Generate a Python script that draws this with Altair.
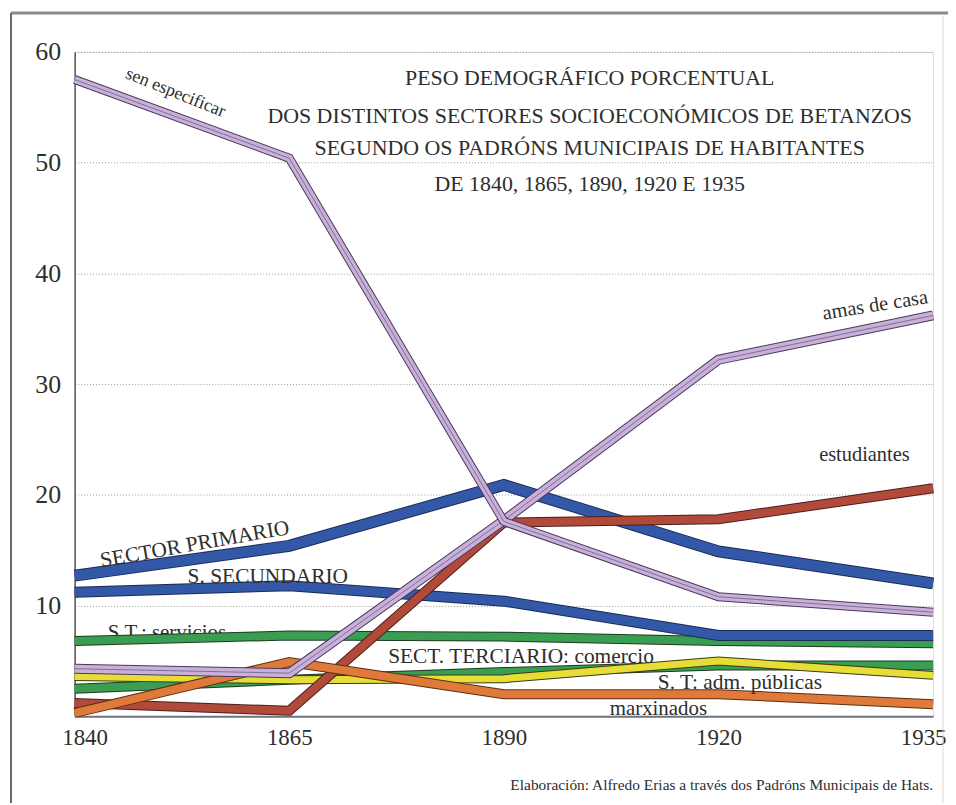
import json
import pandas as pd
import altair as alt

# ---------------- data (percentages) ----------------
years = ["1840", "1865", "1890", "1920", "1935"]

sen_especificar = [57.5, 50.4, 17.6, 10.8, 9.4]
amas_de_casa = [4.3, 3.9, 17.7, 32.2, 36.2]
estudiantes = [1.2, 0.5, 17.5, 17.8, 20.6]
sector_primario = [12.7, 15.4, 20.9, 14.9, 12.0]
s_secundario = [11.2, 11.8, 10.4, 7.3, 7.3]
st_servicios = [6.8, 7.3, 7.2, 6.8, 6.6]
st_comercio = [2.5, 3.3, 4.0, 4.6, 4.6]
st_adm_publicas = [3.6, 3.3, 3.4, 5.0, 3.7]
marxinados = [0.3, 4.9, 2.0, 2.0, 1.1]

# drawing order (bottom to top): name, values, fill colour, outline colour, width
series = [
    ("SECT. TERCIARIO: comercio", st_comercio, "#3a9e52", "#1f3a22", 8),
    ("S. T: adm. públicas", st_adm_publicas, "#e6de36", "#3a3a1a", 7),
    ("S.T.: servicios", st_servicios, "#3a9e52", "#1f3a22", 8),
    ("S. SECUNDARIO", s_secundario, "#3358a8", "#1c2c55", 9),
    ("SECTOR PRIMARIO", sector_primario, "#3358a8", "#1c2c55", 10),
    ("estudiantes", estudiantes, "#b24a3c", "#4a2018", 8),
    ("marxinados", marxinados, "#e07a3a", "#5a2e14", 8),
    ("amas de casa", amas_de_casa, "#c9b0da", "#4a3a5a", 8),
    ("sen especificar", sen_especificar, "#c9b0da", "#4a3a5a", 7),
]

# annotation labels: text, x position (index along the years), y value, angle, size
annotations = [
    ("sen especificar", 0.47, 56.3, 22, 18),
    ("SECTOR PRIMARIO", 0.56, 15.5, 350, 21.5),
    ("S. SECUNDARIO", 0.90, 12.6, 0, 21.5),
    ("SECT. TERCIARIO: comercio", 2.08, 5.4, 0, 21.5),
    ("S. T: adm. públicas", 3.10, 3.0, 0, 21.5),
    ("marxinados", 2.72, 0.7, 0, 21),
    ("amas de casa", 3.73, 37.1, 351, 20.5),
    ("estudiantes", 3.68, 23.6, 0, 20.5),
]
servicios_label = ("S.T.: servicios", 0.43, 7.5, 0, 21)

title_lines = [
    "PESO DEMOGRÁFICO PORCENTUAL",
    "DOS DISTINTOS SECTORES SOCIOECONÓMICOS DE BETANZOS",
    "SEGUNDO OS PADRÓNS MUNICIPAIS DE HABITANTES",
    "DE 1840, 1865, 1890, 1920 E 1935",
]
title_x = [2.40, 2.40, 2.40, 2.40]
title_y = [57.6, 54.2, 51.3, 48.1]

credit = "Elaboración: Alfredo Erias a través dos Padróns Municipais de Hats."
credit_x = [4.0]
credit_y = [-6.2]

FONT = "Liberation Serif"
TXT = "#2e2e2e"

label_expr = json.dumps(years) + "[datum.value]"

x_enc = alt.X(
    "i:Q",
    scale=alt.Scale(domain=[0, len(years) - 1], nice=False, zero=False),
    axis=alt.Axis(
        values=list(range(len(years))),
        labelExpr=label_expr,
        title=None,
        ticks=False,
        grid=False,
        labelFlush=True,
        labelFlushOffset=13,
        labelFont=FONT,
        labelFontSize=23,
        labelColor=TXT,
        labelPadding=10,
        domainColor="#6f7580",
        domainWidth=2,
    ),
)
y_enc = alt.Y(
    "v:Q",
    scale=alt.Scale(domain=[0, 60], nice=False),
    axis=alt.Axis(
        values=[10, 20, 30, 40, 50, 60],
        title=None,
        ticks=False,
        grid=True,
        gridColor="#9a9a9a",
        gridDash=[1, 2],
        gridWidth=1,
        labelFont=FONT,
        labelFontSize=26,
        labelColor=TXT,
        labelPadding=14,
        domainColor="#555555",
        domainWidth=1.5,
    ),
)

layers = []

# frame of the original figure (decoration)
frame = pd.DataFrame({"k": [0]})
layers.append(
    alt.Chart(frame).mark_rule(color="#8a8a8a", strokeWidth=3).encode(
        x=alt.value(-64), x2=alt.value(878), y=alt.value(-39)
    )
)
layers.append(
    alt.Chart(frame).mark_rule(color="#6a6a6a", strokeWidth=2).encode(
        x=alt.value(-64), y=alt.value(-39), y2=alt.value(760)
    )
)
layers.append(
    alt.Chart(frame).mark_rule(color="#d8d8d8", strokeWidth=1).encode(
        x=alt.value(873), y=alt.value(-36), y2=alt.value(760)
    )
)

for name, vals, fill, edge, w in series:
    df = pd.DataFrame({"i": list(range(len(years))), "year": years, "v": vals, "s": name})
    if name == "S.T.: servicios":
        t, ax, ay, ang, sz = servicios_label
        layers.append(
            alt.Chart(pd.DataFrame({"i": [ax], "v": [ay], "t": [t]}))
            .mark_text(font=FONT, fontSize=sz, color=TXT, baseline="middle", align="center")
            .encode(x=x_enc, y=y_enc, text="t:N")
        )
    layers.append(
        alt.Chart(df)
        .mark_line(color=edge, strokeWidth=w + 2, strokeJoin="miter", strokeCap="butt")
        .encode(x=x_enc, y=y_enc)
    )
    layers.append(
        alt.Chart(df)
        .mark_line(color=fill, strokeWidth=w, strokeJoin="miter", strokeCap="butt")
        .encode(x=x_enc, y=y_enc)
    )
    if fill == "#c9b0da":
        layers.append(
            alt.Chart(df)
            .mark_line(color="#6e5f80", strokeWidth=0.8, strokeJoin="miter", strokeCap="butt")
            .encode(x=x_enc, y=y_enc)
        )

for t, ax, ay, ang, sz in annotations:
    layers.append(
        alt.Chart(pd.DataFrame({"i": [ax], "v": [ay], "t": [t]}))
        .mark_text(font=FONT, fontSize=sz, color=TXT, angle=ang, baseline="middle", align="center")
        .encode(x=x_enc, y=y_enc, text="t:N")
    )

title_df = pd.DataFrame({"i": title_x, "v": title_y, "t": title_lines})
layers.append(
    alt.Chart(title_df)
    .mark_text(font=FONT, fontSize=22, color=TXT, baseline="middle", align="center")
    .encode(x=x_enc, y=y_enc, text="t:N")
)

credit_df = pd.DataFrame({"i": credit_x, "v": credit_y, "t": [credit]})
layers.append(
    alt.Chart(credit_df)
    .mark_text(font=FONT, fontSize=15.5, color=TXT, baseline="middle", align="right", clip=False)
    .encode(x=x_enc, y=y_enc, text="t:N")
)

chart = (
    alt.layer(*layers)
    .properties(
        width=863,
        height=668,
        autosize=alt.AutoSizeParams(type="none"),
        padding={"left": 67, "top": 42, "right": 15, "bottom": 85},
    )
    .configure_view(stroke=None)
    .configure(background="white")
)

chart.save("out.html", embed_options={"renderer": "svg", "actions": False})
